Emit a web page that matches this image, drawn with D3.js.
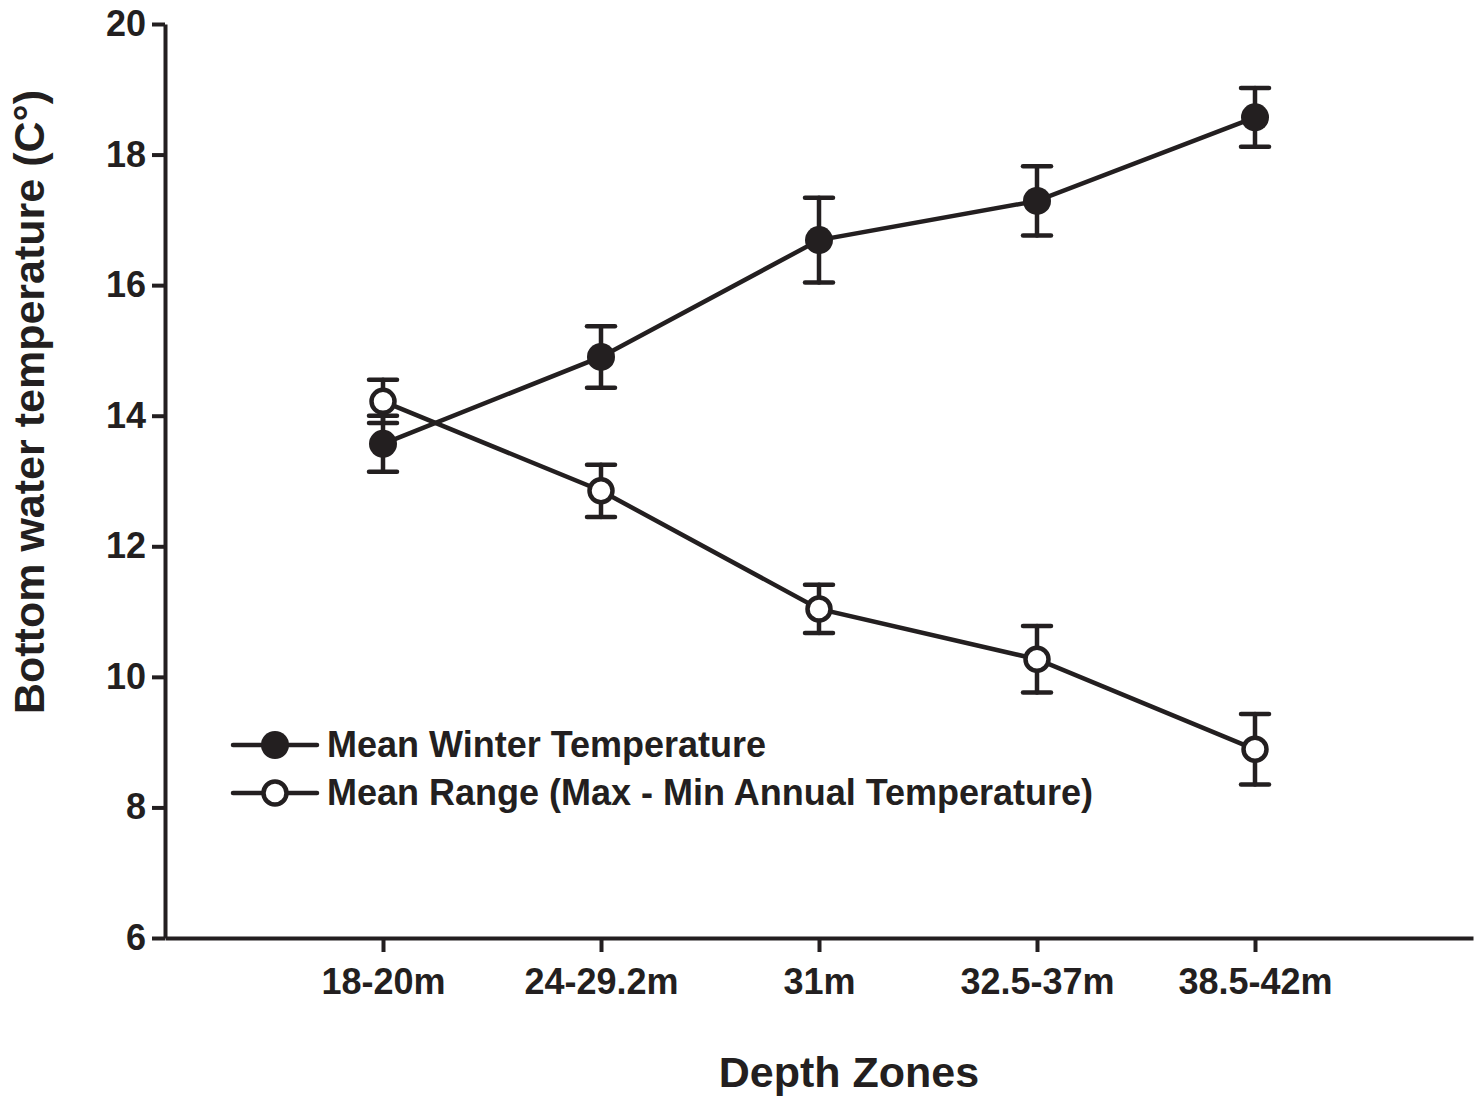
<!DOCTYPE html>
<html>
<head>
<meta charset="utf-8">
<script src="https://cdn.jsdelivr.net/npm/d3@7"></script>
<style>
  body { margin: 0; background: #fff; }
  svg { font-family: 'Liberation Sans', Arial, sans-serif; font-weight: bold; }
</style>
</head>
<body>
<script>
var zones = ['18-20m', '24-29.2m', '31m', '32.5-37m', '38.5-42m'];
var winterMean = [13.57, 14.90, 16.69, 17.29, 18.57];
var winterErr = [0.43, 0.47, 0.65, 0.53, 0.45];
var rangeMean = [14.22, 12.85, 11.04, 10.27, 8.89];
var rangeErr = [0.33, 0.40, 0.37, 0.51, 0.54];
var yTicks = [6, 8, 10, 12, 14, 16, 18, 20];

var w = 1484, h = 1097,
  plotLeft = 165, plotRight = 1473, plotTop = 24, plotBottom = 938,
  ink = '#231f20',
  strokeW = 4.5;

var svg = d3.select('body')
  .append('svg')
  .attr('width', w)
  .attr('height', h);

// zones sit on slots 1..5 of a 0..6 axis
var x = d3.scaleLinear().domain([0, zones.length + 1]).range([plotLeft, plotRight]);
var y = d3.scaleLinear().domain([6, 20]).range([plotBottom, plotTop]);

var yAxis = svg.append('g')
  .attr('transform', 'translate(' + plotLeft + ',0)')
  .call(d3.axisLeft(y).tickValues(yTicks).tickSize(13).tickPadding(6).tickSizeOuter(0));

var xAxis = svg.append('g')
  .attr('transform', 'translate(0,' + plotBottom + ')')
  .call(d3.axisBottom(x)
    .tickValues(d3.range(1, zones.length + 1))
    .tickFormat(function (d) { return zones[d - 1]; })
    .tickSize(14).tickPadding(16).tickSizeOuter(0));

svg.selectAll('.domain, .tick line')
  .attr('stroke', ink)
  .attr('stroke-width', 4);

svg.selectAll('.tick text')
  .attr('font-size', '36px')
  .attr('fill', ink)
  .attr('font-family', 'Liberation Sans, Arial, sans-serif')
  .attr('font-weight', 'bold');

// axis titles
svg.append('text')
  .text('Depth Zones')
  .attr('x', 849)
  .attr('y', 1087)
  .attr('text-anchor', 'middle')
  .attr('font-size', '43px')
  .attr('fill', ink);

svg.append('text')
  .text('Bottom water temperature (C°)')
  .attr('transform', 'translate(44,402) rotate(-90)')
  .attr('text-anchor', 'middle')
  .attr('font-size', '43px')
  .attr('fill', ink);

var line = d3.line()
  .x(function (d, i) { return x(i + 1); })
  .y(function (d) { return y(d); });

function drawSeries(means, errs, filled) {
  var g = svg.append('g');
  g.append('path')
    .datum(means)
    .attr('d', line)
    .attr('fill', 'none')
    .attr('stroke', ink)
    .attr('stroke-width', strokeW);

  var bars = g.selectAll('g.err').data(means)
    .enter()
    .append('g')
    .attr('class', 'err');
  bars.append('line')
    .attr('x1', function (d, i) { return x(i + 1); })
    .attr('x2', function (d, i) { return x(i + 1); })
    .attr('y1', function (d, i) { return y(d + errs[i]); })
    .attr('y2', function (d, i) { return y(d - errs[i]); });
  bars.append('line')
    .attr('x1', function (d, i) { return x(i + 1) - 14; })
    .attr('x2', function (d, i) { return x(i + 1) + 14; })
    .attr('y1', function (d, i) { return y(d + errs[i]); })
    .attr('y2', function (d, i) { return y(d + errs[i]); });
  bars.append('line')
    .attr('x1', function (d, i) { return x(i + 1) - 14; })
    .attr('x2', function (d, i) { return x(i + 1) + 14; })
    .attr('y1', function (d, i) { return y(d - errs[i]); })
    .attr('y2', function (d, i) { return y(d - errs[i]); });
  bars.selectAll('line')
    .attr('stroke', ink)
    .attr('stroke-width', strokeW)
    .attr('stroke-linecap', 'round');

  g.selectAll('circle').data(means)
    .enter()
    .append('circle')
    .attr('cx', function (d, i) { return x(i + 1); })
    .attr('cy', function (d) { return y(d); })
    .attr('r', filled ? 14 : 11.5)
    .attr('fill', filled ? ink : '#fff')
    .attr('stroke', ink)
    .attr('stroke-width', filled ? 0 : strokeW);
}

drawSeries(rangeMean, rangeErr, false);
drawSeries(winterMean, winterErr, true);

// legend
var legend = [
  { label: 'Mean Winter Temperature', filled: true, y: 745 },
  { label: 'Mean Range (Max - Min Annual Temperature)', filled: false, y: 793 }
];
var lg = svg.selectAll('g.legend').data(legend)
  .enter()
  .append('g')
  .attr('class', 'legend');
lg.append('line')
  .attr('x1', 233).attr('x2', 317)
  .attr('y1', function (d) { return d.y; })
  .attr('y2', function (d) { return d.y; })
  .attr('stroke', ink)
  .attr('stroke-width', strokeW)
  .attr('stroke-linecap', 'round');
lg.append('circle')
  .attr('cx', 275)
  .attr('cy', function (d) { return d.y; })
  .attr('r', function (d) { return d.filled ? 14 : 11.5; })
  .attr('fill', function (d) { return d.filled ? ink : '#fff'; })
  .attr('stroke', ink)
  .attr('stroke-width', function (d) { return d.filled ? 0 : strokeW; });
lg.append('text')
  .text(function (d) { return d.label; })
  .attr('x', 327)
  .attr('y', function (d) { return d.y + 12; })
  .attr('font-size', '36px')
  .attr('fill', ink);
</script>
</body>
</html>
